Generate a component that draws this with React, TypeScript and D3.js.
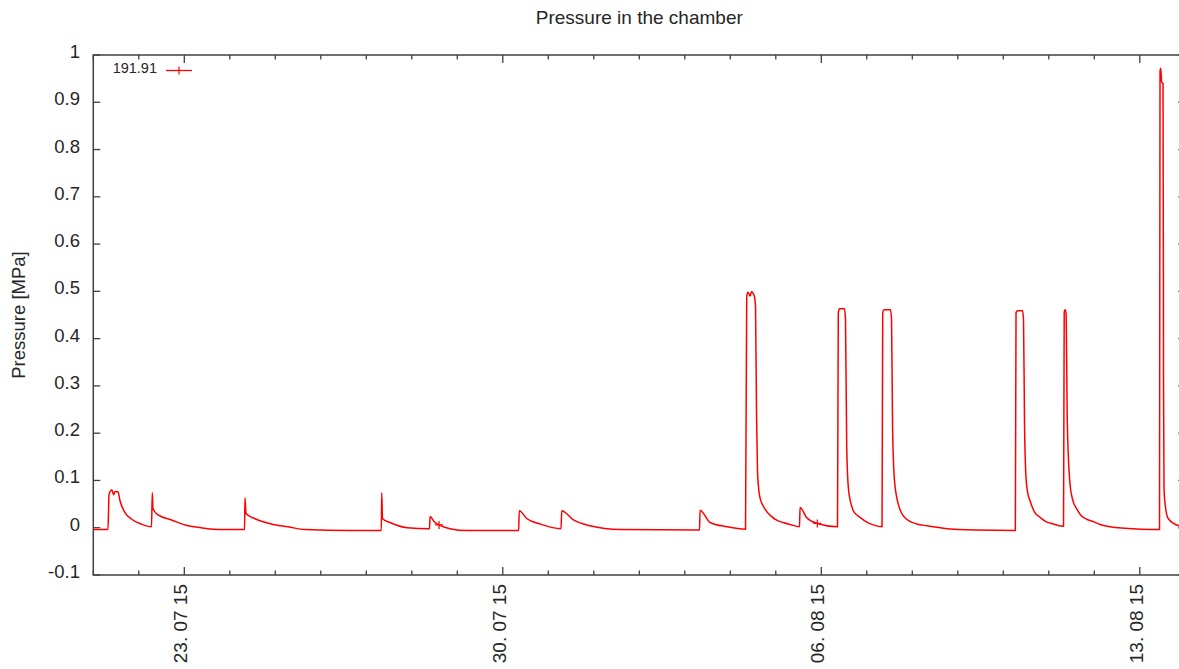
import * as d3 from "d3";

// Pressure log (timestamps local, MPa)
const sampleTimes = [
  "2015-07-21 00:00", "2015-07-21 07:45", "2015-07-21 08:17", "2015-07-21 09:04", "2015-07-21 09:52",
  "2015-07-21 10:40", "2015-07-21 11:27", "2015-07-21 13:02", "2015-07-21 14:05", "2015-07-21 16:43",
  "2015-07-21 19:53", "2015-07-22 01:10", "2015-07-22 06:42", "2015-07-22 07:07", "2015-07-22 07:29",
  "2015-07-22 10:08", "2015-07-22 16:59", "2015-07-23 01:57", "2015-07-23 08:49", "2015-07-23 19:22",
  "2015-07-24 07:46", "2015-07-24 08:01", "2015-07-24 08:33", "2015-07-24 13:18", "2015-07-24 21:44",
  "2015-07-25 06:43", "2015-07-25 15:40", "2015-07-26 15:24", "2015-07-27 07:55", "2015-07-27 08:08",
  "2015-07-27 08:33", "2015-07-27 12:31", "2015-07-27 21:28", "2015-07-28 09:21", "2015-07-28 09:37",
  "2015-07-28 11:43", "2015-07-28 14:22", "2015-07-28 20:10", "2015-07-29 05:08", "2015-07-30 08:23",
  "2015-07-30 08:40", "2015-07-30 12:46", "2015-07-30 19:38", "2015-07-31 06:43", "2015-07-31 07:05",
  "2015-07-31 13:02", "2015-07-31 22:00", "2015-08-01 13:50", "2015-08-03 07:46", "2015-08-03 08:02",
  "2015-08-03 13:18", "2015-08-03 22:16", "2015-08-04 08:02", "2015-08-04 08:40", "2015-08-04 09:21",
  "2015-08-04 10:24", "2015-08-04 11:11", "2015-08-04 12:31", "2015-08-04 13:18", "2015-08-04 13:50",
  "2015-08-04 14:21", "2015-08-04 14:54", "2015-08-04 15:41", "2015-08-04 17:15", "2015-08-04 19:13",
  "2015-08-04 22:00", "2015-08-05 00:29", "2015-08-05 03:48", "2015-08-05 07:30", "2015-08-05 12:31",
  "2015-08-05 12:47", "2015-08-05 16:19", "2015-08-05 21:54", "2015-08-06 08:33", "2015-08-06 08:58",
  "2015-08-06 09:36", "2015-08-06 12:14", "2015-08-06 12:46", "2015-08-06 13:24", "2015-08-06 14:15",
  "2015-08-06 15:15", "2015-08-06 16:53", "2015-08-06 18:30", "2015-08-06 20:25", "2015-08-07 00:00",
  "2015-08-07 03:26", "2015-08-07 08:02", "2015-08-07 08:24", "2015-08-07 09:05", "2015-08-07 12:31",
  "2015-08-07 13:03", "2015-08-07 13:34", "2015-08-07 14:16", "2015-08-07 14:50", "2015-08-07 15:47",
  "2015-08-07 17:20", "2015-08-07 19:16", "2015-08-07 22:30", "2015-08-08 02:20", "2015-08-08 08:00",
  "2015-08-08 16:22", "2015-08-09 09:59", "2015-08-10 06:21", "2015-08-10 06:43", "2015-08-10 07:31",
  "2015-08-10 10:09", "2015-08-10 10:40", "2015-08-10 11:12", "2015-08-10 11:59", "2015-08-10 12:50",
  "2015-08-10 14:06", "2015-08-10 16:30", "2015-08-10 19:22", "2015-08-10 22:30", "2015-08-11 02:23",
  "2015-08-11 07:46", "2015-08-11 08:08", "2015-08-11 08:34", "2015-08-11 09:05", "2015-08-11 09:47",
  "2015-08-11 11:12", "2015-08-11 12:40", "2015-08-11 14:44", "2015-08-11 17:00", "2015-08-11 20:01",
  "2015-08-11 23:30", "2015-08-12 03:02", "2015-08-12 08:18", "2015-08-13 00:08", "2015-08-13 10:24",
  "2015-08-13 10:40", "2015-08-13 11:02", "2015-08-13 11:34", "2015-08-13 12:15", "2015-08-13 12:31",
  "2015-08-13 12:47", "2015-08-13 13:30", "2015-08-13 15:03", "2015-08-13 20:42", "2015-08-14 02:30",
];

const pressureMPa = [
  -0.004, -0.004, 0.07, 0.078, 0.08,
  0.07, 0.076, 0.076, 0.057, 0.032,
  0.019, 0.008, 0.002, 0.074, 0.04,
  0.027, 0.017, 0.004, 0.0, -0.004,
  -0.004, 0.063, 0.03, 0.019, 0.008,
  0.002, -0.004, -0.006, -0.006, 0.074,
  0.019, 0.011, 0.0, -0.002, 0.024,
  0.013, 0.006, -0.002, -0.006, -0.006,
  0.036, 0.019, 0.008, -0.002, 0.036,
  0.017, 0.004, -0.004, -0.005, 0.037,
  0.011, 0.002, -0.003, 0.49, 0.498,
  0.49, 0.499, 0.492, 0.47, 0.241,
  0.12, 0.085, 0.063, 0.047, 0.034,
  0.023, 0.016, 0.011, 0.007, 0.002,
  0.043, 0.021, 0.009, 0.002, 0.455,
  0.463, 0.463, 0.44, 0.17, 0.085,
  0.058, 0.036, 0.028, 0.022, 0.012,
  0.006, 0.002, 0.455, 0.461, 0.461,
  0.44, 0.22, 0.121, 0.09, 0.064,
  0.04, 0.025, 0.014, 0.008, 0.004,
  -0.001, -0.005, -0.006, 0.455, 0.459,
  0.459, 0.44, 0.219, 0.106, 0.075,
  0.057, 0.033, 0.022, 0.013, 0.008,
  0.003, 0.455, 0.461, 0.455, 0.219,
  0.092, 0.058, 0.04, 0.026, 0.018,
  0.013, 0.007, 0.002, -0.003, -0.004,
  0.965, 0.972, 0.942, 0.94, 0.3,
  0.083, 0.045, 0.019, 0.004, 0.0,
];

// samples drawn with a "+" point
const markerTimes = ["2015-07-28 14:22", "2015-08-05 21:54"];
const markerValues = [0.006, 0.009];

const yTicks = [-0.1, 0, 0.1, 0.2, 0.3, 0.4, 0.5, 0.6, 0.7, 0.8, 0.9, 1];
const seriesLabel = "191.91";

const W = 1179;
const H = 669;
const LEFT = 93.3;
const RIGHT = 1185.3;
const TOP = 55;
const BOTTOM = 575;
const AXIS = "#404040";
const TEXT = "#262626";
const FONT = "'Liberation Sans', Arial, sans-serif";

const parse = d3.timeParse("%Y-%m-%d %H:%M");
const fmt = d3.timeFormat("%d. %m %y");

export default function App() {
  const data = sampleTimes.map((t, i) => ({ t: parse(t) as Date, v: pressureMPa[i] }));
  const markers = markerTimes.map((t, i) => ({ t: parse(t) as Date, v: markerValues[i] }));

  const x = d3
    .scaleTime()
    .domain([parse("2015-07-21 00:00") as Date, parse("2015-08-14 00:00") as Date])
    .range([LEFT, RIGHT]);
  const y = d3.scaleLinear().domain([-0.1, 1]).range([BOTTOM, TOP]);

  const line = d3
    .line<{ t: Date; v: number }>()
    .x((d) => x(d.t))
    .y((d) => y(d.v))
    .curve(d3.curveMonotoneX);

  const days = x.ticks(d3.timeDay.every(1) as d3.TimeInterval);
  const weeks = days.filter((d) => d.getDay() === 4); // Thursdays: 23.07, 30.07, ...

  return (
    <svg
      width={W}
      height={H}
      style={{ position: "absolute", left: 0, top: 0, background: "#fff" }}
      fontFamily={FONT}
    >
      <defs>
        <clipPath id="plot">
          <rect x={LEFT} y={TOP - 20} width={RIGHT - LEFT} height={BOTTOM - TOP + 20} />
        </clipPath>
      </defs>

      <text x={(LEFT + RIGHT) / 2} y={24} textAnchor="middle" fontSize={19} fill={TEXT}>
        Pressure in the chamber
      </text>
      <text
        transform={`translate(25,${(TOP + BOTTOM) / 2}) rotate(-90)`}
        textAnchor="middle"
        fontSize={18.5}
        fill={TEXT}
      >
        Pressure [MPa]
      </text>

      {/* y ticks, mirrored on the right border */}
      {yTicks.map((t) => (
        <g key={t}>
          <line x1={LEFT} x2={LEFT + 7} y1={y(t)} y2={y(t)} stroke={AXIS} strokeWidth={1.3} />
          <line x1={RIGHT - 7} x2={RIGHT} y1={y(t)} y2={y(t)} stroke={AXIS} strokeWidth={1.3} />
          <text x={80} y={y(t) + 3} textAnchor="end" fontSize={18.5} fill={TEXT}>
            {t}
          </text>
        </g>
      ))}

      {/* x ticks: every day, longer on weekly labels */}
      {days.map((d) => {
        const major = weeks.some((w) => +w === +d);
        const len = major ? 8 : 4.5;
        return (
          <g key={+d}>
            <line x1={x(d)} x2={x(d)} y1={BOTTOM} y2={BOTTOM - len} stroke={AXIS} strokeWidth={1.3} />
            <line x1={x(d)} x2={x(d)} y1={TOP} y2={TOP + len} stroke={AXIS} strokeWidth={1.3} />
          </g>
        );
      })}
      {weeks.map((d) => (
        <text
          key={+d}
          transform={`translate(${x(d) + 3},${BOTTOM + 9}) rotate(-90)`}
          textAnchor="end"
          fontSize={19}
          fill={TEXT}
        >
          {fmt(d)}
        </text>
      ))}

      <rect
        x={LEFT}
        y={TOP}
        width={RIGHT - LEFT}
        height={BOTTOM - TOP}
        fill="none"
        stroke={AXIS}
        strokeWidth={1.5}
      />

      <g clipPath="url(#plot)">
        <path d={line(data) ?? ""} fill="none" stroke="#ff0000" strokeWidth={1.5} strokeLinejoin="round" />
        {markers.map((m, i) => (
          <path
            key={i}
            d={`M${x(m.t) - 4},${y(m.v)}h8M${x(m.t)},${y(m.v) - 4}v8`}
            stroke="#ff0000"
            strokeWidth={1.2}
          />
        ))}
      </g>

      {/* legend */}
      <text x={157} y={73} textAnchor="end" fontSize={14.5} fill={TEXT}>
        {seriesLabel}
      </text>
      <line x1={166} x2={192} y1={70.5} y2={70.5} stroke="#ff0000" strokeWidth={1.3} />
      <line x1={179} x2={179} y1={66.5} y2={74.5} stroke="#ff0000" strokeWidth={1.2} />
    </svg>
  );
}
